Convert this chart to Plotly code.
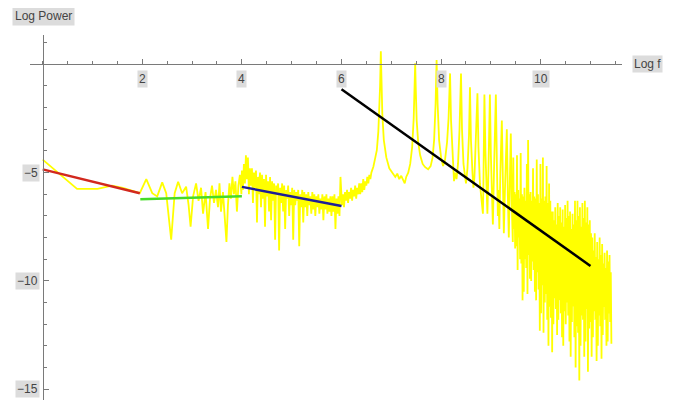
import numpy as np
import plotly.graph_objects as go

# ---------------- data ----------------
# sparse start of the spectrum (log f, log power)
low_x = [0.0, 0.69, 1.10, 1.39, 1.61, 1.79, 1.95]
low_y = [-4.4, -5.75, -5.75, -5.6, -5.7, -5.82, -5.95]

# zig-zag region between log f = 2 and 4
mid_x = [2.08, 2.20, 2.30, 2.40, 2.48, 2.58, 2.65, 2.72, 2.80, 2.88,
         2.93, 2.97, 3.02, 3.08, 3.13, 3.18, 3.22, 3.27, 3.32, 3.36,
         3.40, 3.44, 3.48, 3.52, 3.55, 3.58, 3.62, 3.66, 3.69, 3.72,
         3.75, 3.78, 3.81, 3.84, 3.87, 3.90, 3.93, 3.96, 3.99]
mid_y = [-5.3, -5.95, -6.1, -5.45, -5.95, -8.1, -5.95, -5.42, -5.95, -5.65,
         -6.5, -7.5, -6.1, -5.5, -6.3, -5.7, -6.9, -5.9, -7.6, -6.2,
         -5.6, -6.4, -5.8, -6.6, -5.5, -6.8, -5.9, -7.2, -8.2, -6.5,
         -5.5, -6.2, -5.2, -6.0, -5.4, -6.8, -5.6, -5.1, -6.0]

# dense noise between log f = 4 and 6 (evenly sampled)
band_start, band_end = 4.0, 6.0
band_y = [-4.9, -5.8, -4.6, -5.5, -4.2, -5.3, -4.3, -6.0, -4.8, -5.6,
          -4.8, -6.4, -5.0, -5.7, -4.9, -7.3, -5.2, -6.0, -5.0, -6.6,
          -5.1, -6.2, -5.3, -7.5, -5.1, -6.1, -5.4, -6.8, -5.2, -7.2,
          -5.4, -6.3, -5.5, -8.1, -5.6, -6.0, -5.5, -8.6, -5.7, -6.4,
          -5.5, -6.8, -5.6, -7.6, -5.8, -6.2, -5.6, -7.0, -5.9, -6.5,
          -5.7, -8.1, -5.8, -6.5, -5.9, -6.3, -5.8, -8.4, -6.0, -6.6,
          -5.8, -7.3, -5.9, -6.6, -6.0, -7.0, -5.9, -6.5, -6.1, -6.9,
          -5.9, -6.7, -6.0, -7.0, -6.1, -6.6, -6.0, -6.9, -6.2, -6.7,
          -6.0, -7.2, -6.1, -6.7, -6.0, -6.9, -6.2, -6.8, -6.1, -7.0,
          -6.1, -6.8, -6.0, -7.6, -6.2, -6.9, -6.1, -7.0, -5.2, -6.2]

# rising floor before the first resonance (evenly sampled)
rise_start, rise_end = 6.01, 6.6
rise_y = [-6.5, -6.0, -6.6, -5.9, -6.3, -5.8, -6.4, -5.9, -6.2, -5.7,
          -6.3, -5.8, -6.1, -5.6, -6.2, -5.7, -6.0, -5.5, -6.0, -5.5,
          -5.9, -5.3, -5.8, -5.4, -5.6, -5.2, -5.5, -5.1, -5.3, -5.0]

# resonance peaks
peak_x = [6.64, 6.68, 6.71, 6.74, 6.76, 6.775, 6.79, 6.805, 6.82, 6.85,
          6.90, 6.96, 7.02, 7.08, 7.12, 7.16, 7.20, 7.24, 7.27, 7.30,
          7.34, 7.38, 7.42, 7.45, 7.47, 7.48, 7.49, 7.51, 7.54, 7.58,
          7.63, 7.68, 7.74, 7.79, 7.83, 7.86, 7.89, 7.91, 7.93, 7.96,
          8.00, 8.04, 8.08, 8.12, 8.15, 8.18, 8.20, 8.23, 8.26, 8.28,
          8.31, 8.34, 8.37, 8.40, 8.42, 8.45, 8.48, 8.50, 8.53, 8.56,
          8.58, 8.60, 8.63, 8.65, 8.67, 8.70, 8.73, 8.75, 8.78, 8.81,
          8.84, 8.85, 8.87, 8.89, 8.91, 8.93, 8.95, 8.98, 9.00, 9.02,
          9.04, 9.06, 9.08, 9.10, 9.12, 9.14, 9.15, 9.17, 9.19, 9.22,
          9.24, 9.26, 9.28, 9.30, 9.32, 9.34, 9.36, 9.38, 9.40, 9.42,
          9.44]
peak_y = [-4.73, -4.3, -3.96, -3.1, -2.2, -1.0, 0.6, -1.0, -2.3, -3.5,
          -4.3, -4.8, -5.0, -5.2, -5.05, -5.3, -5.15, -5.4, -5.5, -5.2,
          -5.0, -4.6, -3.8, -2.5, -1.0, 0.05, -1.0, -2.6, -3.6, -4.2,
          -4.6, -4.75, -4.85, -4.7, -4.3, -3.5, -1.8, 0.2, -1.8, -3.5,
          -4.3, -4.7, -4.4, -3.6, -2.5, -0.42, -2.6, -4.4, -5.4, -5.0,
          -5.3, -4.6, -3.0, -0.42, -3.0, -4.6, -5.1, -5.5, -4.8, -3.3,
          -1.06, -3.5, -5.0, -5.7, -5.2, -3.6, -1.34, -3.8, -5.5, -6.2,
          -6.9, -5.5, -1.4, -4.0, -6.0, -6.9, -5.0, -1.4, -4.2, -6.4,
          -7.4, -5.2, -3.0, -1.4, -4.5, -7.0, -5.8, -7.6, -5.0, -2.6,
          -5.2, -7.8, -6.0, -4.0, -3.0, -6.0, -8.0, -5.5, -3.2, -6.5,
          -8.2]

# dense high-frequency tail (evenly sampled)
tail_start, tail_end = 9.45, 11.42
tail_y = [-4.3, -7.6, -5.9, -8.5, -6.0, -8.4, -4.2, -9.5,
          -5.8, -8.0, -6.2, -9.0, -4.1, -9.2, -6.0, -10.9,
          -6.1, -10.5, -5.7, -9.0, -6.3, -9.4, -4.6, -10.6,
          -3.5, -8.8, -6.0, -9.9, -5.9, -10.0, -6.3, -9.1,
          -4.8, -9.5, -6.1, -10.5, -6.2, -10.9, -4.4, -9.6,
          -6.0, -10.4, -6.4, -12.3, -4.6, -11.5, -6.2, -10.2,
          -4.3, -12.4, -6.3, -11.0, -6.1, -10.6, -4.7, -11.8,
          -6.4, -13.0, -5.5, -11.2, -6.3, -11.7, -6.8, -13.3,
          -6.8, -12.0, -7.2, -10.8, -6.6, -11.3, -7.4, -12.5,
          -6.4, -11.8, -7.0, -10.9, -6.6, -11.5, -7.3, -12.6,
          -6.7, -13.0, -7.5, -11.4, -6.5, -12.0, -7.1, -11.0,
          -6.3, -11.6, -7.0, -12.8, -6.8, -13.5, -7.6, -11.9,
          -6.9, -11.2, -7.4, -12.6, -6.3, -14.0, -7.2, -12.1,
          -6.3, -12.4, -7.0, -14.6, -6.6, -13.0, -7.5, -11.6,
          -6.4, -11.8, -7.1, -13.5, -6.3, -12.8, -7.3, -11.3,
          -6.6, -14.2, -7.4, -12.2, -7.2, -11.9, -7.8, -13.5,
          -8.0, -12.6, -8.6, -11.4, -7.8, -11.8, -8.9, -13.7,
          -8.2, -13.0, -9.0, -11.6, -8.0, -12.1, -8.8, -13.6,
          -8.3, -12.5, -9.2, -11.2, -8.7, -11.8, -9.4, -13.0,
          -8.6, -12.8, -9.1, -11.5, -8.8, -11.9, -9.6, -12.9]

# fitted power-law segments
fit_red_x, fit_red_y = [0.0, 1.95], [-4.85, -5.95]
fit_green_x, fit_green_y = [1.96, 4.0], [-6.23, -6.09]
fit_blue_x, fit_blue_y = [4.0, 6.0], [-5.66, -6.54]
fit_black_x, fit_black_y = [6.0, 11.0], [-1.15, -9.31]

x_tick_vals = [2, 4, 6, 8, 10]
x_tick_text = ["2", "4", "6", "8", "10"]
y_tick_vals = [-5, -10, -15]
y_tick_text = ["\u22125", "\u221210", "\u221215"]

assert len(mid_x) == len(mid_y)
assert len(peak_x) == len(peak_y)

# ---------------- build ----------------
spec_x = np.concatenate([
    low_x, mid_x,
    np.linspace(band_start, band_end, len(band_y)),
    np.linspace(rise_start, rise_end, len(rise_y)),
    peak_x,
    np.linspace(tail_start, tail_end, len(tail_y)),
])
spec_y = np.concatenate([low_y, mid_y, band_y, rise_y, peak_y, tail_y])

fig = go.Figure()
fig.add_trace(go.Scatter(x=spec_x, y=spec_y, mode="lines",
                         line=dict(color="rgb(255,255,0)", width=1.8),
                         hoverinfo="skip", showlegend=False))

fits = [
    (fit_red_x, fit_red_y, "rgb(210,40,30)"),
    (fit_green_x, fit_green_y, "rgb(70,220,40)"),
    (fit_blue_x, fit_blue_y, "rgb(30,30,150)"),
    (fit_black_x, fit_black_y, "rgb(0,0,0)"),
]
for fx, fy, col in fits:
    fig.add_trace(go.Scatter(x=fx, y=fy, mode="lines",
                             line=dict(color=col, width=2.5),
                             hoverinfo="skip", showlegend=False))

x_lo, x_hi = -0.255, 11.633
y_lo, y_hi = -15.5, 1.353
axis_col = "#7a7a7a"
lab_font = dict(family="Liberation Sans, Arial, sans-serif", size=12, color="#444444")
lab_bg = "#dcdcdc"

fig.update_xaxes(range=[x_lo, x_hi], showgrid=False, zeroline=False,
                 showline=True, linecolor=axis_col, linewidth=1,
                 anchor="free", position=(0 - y_lo) / (y_hi - y_lo),
                 side="bottom",
                 tickvals=x_tick_vals, ticks="inside", ticklen=5,
                 tickcolor=axis_col, tickwidth=1, showticklabels=False,
                 minor=dict(dtick=0.5, tick0=0, ticks="inside", ticklen=3,
                            tickcolor=axis_col, tickwidth=1, showgrid=False))
fig.update_yaxes(range=[y_lo, y_hi], showgrid=False, zeroline=False,
                 showline=True, linecolor=axis_col, linewidth=1,
                 anchor="free", position=(0 - x_lo) / (x_hi - x_lo),
                 side="left",
                 tickvals=y_tick_vals, ticks="inside", ticklen=5,
                 tickcolor=axis_col, tickwidth=1, showticklabels=False,
                 minor=dict(dtick=1, tick0=0, ticks="inside", ticklen=3,
                            tickcolor=axis_col, tickwidth=1, showgrid=False))

ann = []
for v, t in zip(x_tick_vals, x_tick_text):
    ann.append(dict(x=v, y=0, xref="x", yref="y", text=t, showarrow=False,
                    xanchor="center", yanchor="top", yshift=-6,
                    font=lab_font, bgcolor=lab_bg, borderpad=1))
for v, t in zip(y_tick_vals, y_tick_text):
    ann.append(dict(x=0, y=v, xref="x", yref="y", text=t, showarrow=False,
                    xanchor="right", yanchor="middle", xshift=-3,
                    font=lab_font, bgcolor=lab_bg, borderpad=1))
ann.append(dict(x=x_hi, y=0, xref="x", yref="y", text="Log f", showarrow=False,
                xanchor="left", yanchor="middle", xshift=10,
                font=lab_font, bgcolor=lab_bg, borderpad=1))
ann.append(dict(x=0, y=y_hi, xref="x", yref="y", text="Log Power", showarrow=False,
                xanchor="center", yanchor="bottom", yshift=9, xshift=1,
                font=lab_font, bgcolor=lab_bg, borderpad=2))

# the page body has an 8px margin; compensate so the plot sits where the reference has it
fig.update_layout(width=677, height=400,
                  margin=dict(l=22, r=63, t=27, b=8, pad=0),
                  paper_bgcolor="white", plot_bgcolor="white",
                  annotations=ann, showlegend=False)

fig.write_html("out.html", config={"displayModeBar": False})
